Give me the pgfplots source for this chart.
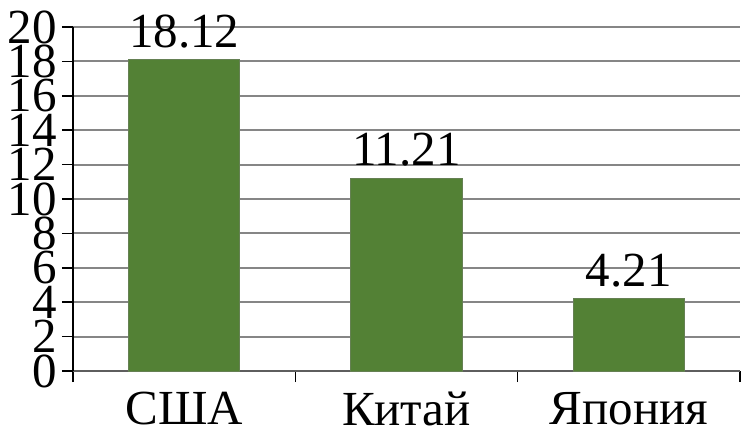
\documentclass[border=0pt]{standalone}
\usepackage{fontspec}
\setmainfont{Liberation Serif}
\usepackage{pgfplots}
\pgfplotsset{compat=1.18}
\usepackage{pgfplotstable}
\usetikzlibrary{calc}
\definecolor{bargreen}{RGB}{83,129,53}
\definecolor{gridgray}{RGB}{134,134,134}
\pgfplotstableread{
x y
0 18.12
1 11.21
2 4.21
}\datatable
\begin{document}
\begin{tikzpicture}
\begin{axis}[
  name=ax,
  scale only axis,
  width=333.5pt, height=172pt,
  xmin=-0.5, xmax=2.5,
  ymin=0, ymax=20,
  axis x line=bottom, axis y line=left,
  axis line style={-, black, line width=0.75pt},
  x axis line style={gridgray!70!black},
  xtick={-0.5,0.5,1.5,2.5},
  xticklabels={США,Китай,Япония},
  x tick label as interval,
  ytick={0,2,...,20},
  tick align=outside,
  major tick length=5.5pt,
  tick style={black, line width=0.75pt},
  ymajorgrids,
  major grid style={gridgray, line width=1pt},
  /pgf/number format/assume math mode=true,
  ticklabel style={font=\fontsize{24.5}{24.5}\selectfont},
  yticklabel style={inner sep=0pt, xshift=-2.5pt},
  xticklabel style={inner sep=0pt, yshift=-5pt},
  clip=false,
]
\addplot[ybar, bar width=0.5, fill=bargreen, draw=gray!40!bargreen, line width=0.5pt,
  nodes near coords,
  nodes near coords style={font=\fontsize{24.5}{24.5}\selectfont, inner sep=0pt, yshift=5.5pt,
    /pgf/number format/.cd, fixed, precision=2, fixed zerofill, assume math mode=true},
] table[x=x, y=y] {\datatable};
\end{axis}
\pgfresetboundingbox
\path[use as bounding box] ($(ax.south west)+(-36.5pt,-31pt)$) rectangle ($(ax.north east)+(0.5pt,13.5pt)$);
\end{tikzpicture}
\end{document}
